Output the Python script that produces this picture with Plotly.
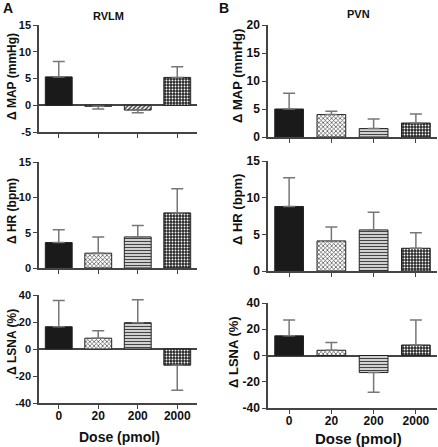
import plotly.graph_objects as go

W, H = 438, 447
doses = ["0", "20", "200", "2000"]

# Panel A (RVLM)
a_map = [5.3, -0.2, -0.9, 5.2]
a_map_err = [2.9, 0.5, 0.5, 2.0]
a_hr = [3.6, 2.1, 4.4, 7.8]
a_hr_err = [1.8, 2.3, 1.6, 3.4]
a_lsna = [16.5, 8.0, 19.5, -12.0]
a_lsna_err = [19.5, 5.5, 17.0, 18.5]
# Panel B (PVN)
b_map = [5.0, 4.0, 1.5, 2.5]
b_map_err = [2.8, 0.6, 1.7, 1.6]
b_hr = [8.8, 4.1, 5.6, 3.1]
b_hr_err = [3.9, 1.9, 2.4, 2.1]
b_lsna = [15.0, 4.0, -13.0, 8.0]
b_lsna_err = [12.0, 6.0, 15.0, 19.0]

FONT = "Liberation Sans, Arial, sans-serif"
AX = "#444444"

panels = [
    (a_map, a_map_err, (39, 197), (25, 132), [-5, 15], 5, "Δ MAP (mmHg)", (12, 77), False, "/"),
    (a_hr, a_hr_err, (39, 197), (162, 268), [0, 15], 5, "Δ HR (bpm)", (12, 211), False, "-"),
    (a_lsna, a_lsna_err, (39, 197), (295, 403), [-40, 40], 20, "Δ LSNA (%)", (12, 342), True, "-"),
    (b_map, b_map_err, (268, 437), (25, 137), [0, 20], 5, "Δ MAP (mmHg)", (237, 76), False, "-"),
    (b_hr, b_hr_err, (268, 437), (161, 271), [0, 15], 5, "Δ HR (bpm)", (237, 210), False, "-"),
    (b_lsna, b_lsna_err, (268, 437), (303, 408), [-40, 40], 20, "Δ LSNA (%)", (233, 352), True, "-"),
]

fig = go.Figure()
annotations = []
for i, (vals, errs, xp, yp, yr, dt, yt, tpos, showx, p3) in enumerate(panels):
    n = "" if i == 0 else str(i + 1)
    up = [e if v >= 0 else 0 for v, e in zip(vals, errs)]
    dn = [e if v < 0 else 0 for v, e in zip(vals, errs)]
    big = i >= 3
    fig.add_trace(go.Bar(
        x=doses, y=vals, width=0.68,
        xaxis="x" + n, yaxis="y" + n,
        marker=dict(
            color=["#1a1a1a", "white", "white", "#2a2a2a"],
            line=dict(color="#222222", width=1),
            pattern=dict(
                shape=["", "x", p3, "."],
                fgcolor=["#1a1a1a", "#1a1a1a", "#333333", "#888888"],
                bgcolor=["#1a1a1a", "white", "white", "#2a2a2a"],
                fgopacity=1,
                size=[4, 3, 3, 3],
                solidity=[0.5, 0.4, 0.5, 0.3],
                fillmode="overlay",
            ),
        ),
        error_y=dict(type="data", symmetric=False, array=up, arrayminus=dn,
                     color="#777777", thickness=1.5, width=6),
        showlegend=False,
    ))
    xd = [xp[0] / W, xp[1] / W]
    yd = [1 - yp[1] / H, 1 - yp[0] / H]
    fs = 12 if big else 11
    yticks = list(range(yr[0], yr[1] + 1, dt))
    fig.layout["xaxis" + n] = dict(
        domain=xd, anchor="y" + n, range=[-0.5, 3.5], type="category", automargin=False,
        showline=True, linecolor=AX, linewidth=1.5, ticks="outside", ticklen=4,
        tickcolor=AX, tickwidth=1.2, showgrid=False, zeroline=False,
        showticklabels=showx, ticklabelstandoff=-3,
        tickvals=doses, ticktext=["<b>%s</b>" % d for d in doses],
        tickfont=dict(family=FONT, size=12, color="#111"),
    )
    fig.layout["yaxis" + n] = dict(
        domain=yd, anchor="x" + n, range=yr, automargin=False,
        tickvals=yticks, ticktext=["<b>%d</b>" % t for t in yticks],
        showline=True, linecolor=AX, linewidth=1.5, ticks="outside", ticklen=4,
        tickcolor=AX, tickwidth=1.2, showgrid=False,
        zeroline=yr[0] < 0, zerolinecolor=AX, zerolinewidth=1.5,
        tickfont=dict(family=FONT, size=fs, color="#111"),
    )
    annotations.append(dict(
        text="<b>%s</b>" % yt, x=tpos[0] / W, y=1 - tpos[1] / H, xref="paper", yref="paper",
        textangle=-90, showarrow=False, xanchor="center", yanchor="middle",
        font=dict(family=FONT, size=13 if big else 12, color="#111"),
    ))

for txt, x, y, s in [("RVLM", 108, 16, 11), ("PVN", 358, 14, 11), ("A", 8, 8, 14), ("B", 224, 8, 14)]:
    annotations.append(dict(text="<b>%s</b>" % txt, x=x / W, y=1 - y / H, xref="paper", yref="paper",
                            showarrow=False, xanchor="center", yanchor="middle",
                            font=dict(family=FONT, size=s, color="#111")))
for x, y, s in [(119, 437, 14), (358, 438, 15)]:
    annotations.append(dict(text="<b>Dose (pmol)</b>", x=x / W, y=1 - y / H, xref="paper", yref="paper",
                            showarrow=False, xanchor="center", yanchor="middle",
                            font=dict(family=FONT, size=s, color="#111")))

fig.update_layout(
    width=W, height=H, margin=dict(l=0, r=0, t=0, b=0),
    paper_bgcolor="white", plot_bgcolor="white",
    annotations=annotations, bargap=0.3,
)
fig.write_html("out.html", config={"displayModeBar": False},
               post_script="document.body.style.margin='0px';")
